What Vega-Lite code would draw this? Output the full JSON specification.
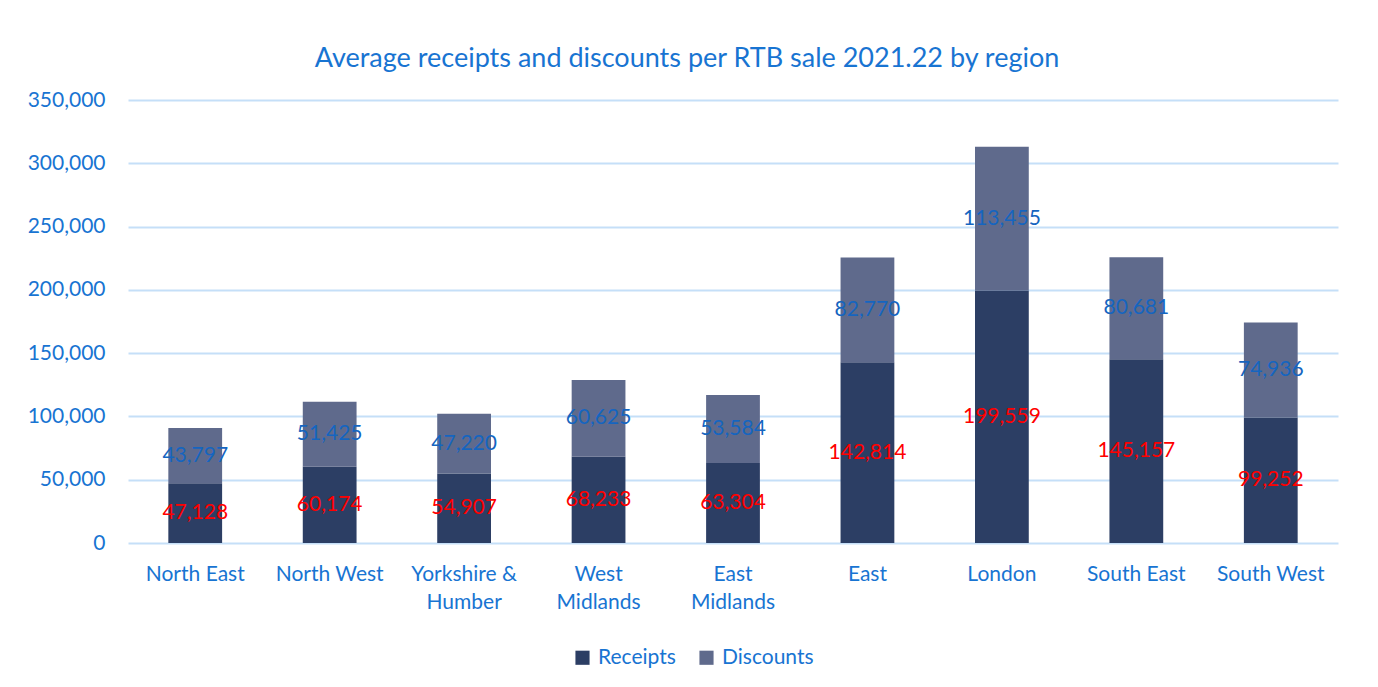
{
  "$schema": "https://vega.github.io/schema/vega-lite/v6.json",
  "autosize": {"type": "none"},
  "width": 1210,
  "height": 443,
  "padding": {"left": 128, "top": 100, "right": 40, "bottom": 144},
  "background": "white",
  "title": {
    "text": "Average receipts and discounts per RTB sale 2021.22 by region",
    "font": "Lato",
    "fontSize": 27,
    "fontWeight": "normal",
    "color": "#1874D2",
    "anchor": "middle",
    "dx": -46,
    "offset": 16
  },
  "data": {
    "values": [
      {"region": "North East", "type": "Receipts", "value": 47128},
      {"region": "North East", "type": "Discounts", "value": 43797},
      {"region": "North West", "type": "Receipts", "value": 60174},
      {"region": "North West", "type": "Discounts", "value": 51425},
      {"region": "Yorkshire & Humber", "type": "Receipts", "value": 54907},
      {"region": "Yorkshire & Humber", "type": "Discounts", "value": 47220},
      {"region": "West Midlands", "type": "Receipts", "value": 68233},
      {"region": "West Midlands", "type": "Discounts", "value": 60625},
      {"region": "East Midlands", "type": "Receipts", "value": 63304},
      {"region": "East Midlands", "type": "Discounts", "value": 53584},
      {"region": "East", "type": "Receipts", "value": 142814},
      {"region": "East", "type": "Discounts", "value": 82770},
      {"region": "London", "type": "Receipts", "value": 199559},
      {"region": "London", "type": "Discounts", "value": 113455},
      {"region": "South East", "type": "Receipts", "value": 145157},
      {"region": "South East", "type": "Discounts", "value": 80681},
      {"region": "South West", "type": "Receipts", "value": 99252},
      {"region": "South West", "type": "Discounts", "value": 74936}
    ]
  },
  "transform": [
    {"stack": "value", "groupby": ["region"], "sort": [{"field": "type", "order": "descending"}], "as": ["v0", "v1"]},
    {"calculate": "(datum.v0 + datum.v1) / 2", "as": "mid"}
  ],
  "encoding": {
    "x": {
      "field": "region",
      "type": "nominal",
      "sort": null,
      "title": null,
      "scale": {"paddingInner": 0.6, "paddingOuter": 0.3},
      "axis": {
        "labelAngle": 0,
        "labelPadding": 20,
        "labelLineHeight": 28,
        "labelBaseline": "top",
        "labelExpr": "datum.label == 'Yorkshire & Humber' ? ['Yorkshire &', 'Humber'] : datum.label == 'West Midlands' ? ['West', 'Midlands'] : datum.label == 'East Midlands' ? ['East', 'Midlands'] : datum.label",
        "ticks": false,
        "domain": false,
        "grid": false
      }
    }
  },
  "layer": [
    {
      "mark": {"type": "bar"},
      "encoding": {
        "y": {
          "field": "v0",
          "type": "quantitative",
          "scale": {"domain": [0, 350000], "nice": false},
          "title": null,
          "axis": {
            "values": [0, 50000, 100000, 150000, 200000, 250000, 300000, 350000],
            "format": ",d",
            "labelPadding": 23,
            "ticks": false,
            "domain": false,
            "grid": true
          }
        },
        "y2": {"field": "v1"},
        "color": {
          "field": "type",
          "type": "nominal",
          "scale": {"domain": ["Receipts", "Discounts"], "range": ["#2C3E64", "#5F6A8C"]},
          "legend": {
            "title": null,
            "orient": "none",
            "direction": "horizontal",
            "legendX": 444,
            "legendY": 547,
            "symbolType": "square",
            "symbolSize": 200,
            "symbolStrokeWidth": 0,
            "symbolOpacity": 1,
            "labelFont": "Lato",
            "labelFontSize": 21,
            "labelColor": "#1874D2",
            "columnPadding": 20,
            "labelOffset": 5
          }
        }
      }
    },
    {
      "mark": {"type": "text", "font": "Lato", "fontSize": 21, "baseline": "middle", "align": "center"},
      "encoding": {
        "y": {"field": "mid", "type": "quantitative"},
        "text": {"field": "value", "type": "quantitative", "format": ",d"},
        "color": {
          "condition": {"test": "datum.type == 'Receipts'", "value": "#FF0000"},
          "value": "#1565C0"
        }
      }
    }
  ],
  "config": {
    "view": {"stroke": null},
    "axis": {
      "labelFont": "Lato",
      "labelFontSize": 21,
      "labelColor": "#1874D2",
      "gridColor": "#C5DFF8",
      "gridWidth": 2,
      "gridOpacity": 1
    }
  }
}
